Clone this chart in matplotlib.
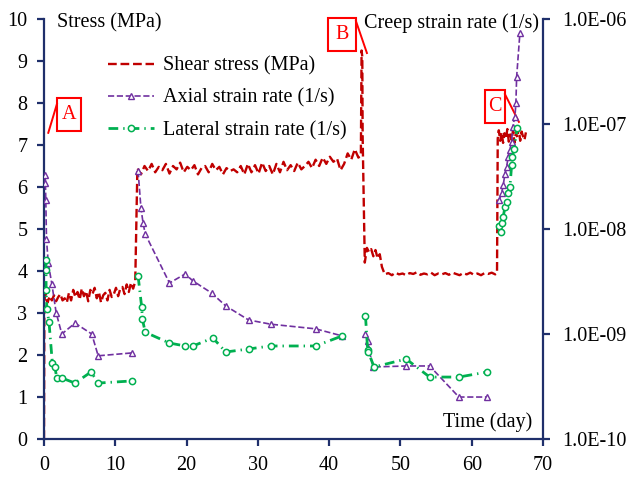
import matplotlib
matplotlib.use("Agg")
import matplotlib.pyplot as plt
from matplotlib.patches import Rectangle
from matplotlib.ticker import FixedLocator, FixedFormatter, NullLocator

NAN = float("nan")  # break between loading stages

# ---- shear stress (MPa) ----
stress_t = [
    0.0, 0.05,
    0.2, 0.5, 0.8, 1.1, 1.4, 1.7, 2.0, 2.3, 2.6, 2.9, 3.2, 3.5, 3.8, 4.1, 4.4,
    4.7, 5.0, 5.3, 5.6, 5.9, 6.2, 6.5, 6.8, 7.1, 7.4, 7.7, 8.0, 8.3, 8.6, 8.9,
    9.2, 9.5, 9.8, 10.1, 10.4, 10.7, 11.0, 11.3, 11.6, 11.9, 12.2, 12.5, 12.8,
    13.1, 13.6, 14.1, 14.6, 15.1, 15.6, 16.1, 16.6, 17.1, 17.6, 18.1, 18.6,
    19.1, 19.6, 20.1, 20.6, 21.1, 21.6, 22.1, 22.6, 23.1, 23.6, 24.1, 24.6,
    25.1, 25.6, 26.1, 26.6, 27.1, 27.6, 28.1, 28.6, 29.1, 29.6, 30.1, 30.6,
    31.1, 31.6, 32.1, 32.6, 33.1, 33.6, 34.1, 34.6, 35.1, 35.6, 36.1, 36.6,
    37.1, 37.6, 38.1, 38.6, 39.1, 39.6, 40.1, 40.6, 41.1, 41.6, 42.1, 42.6,
    43.1, 43.6, 44.1, 44.45,
    44.55, 44.65, 44.7,
    45.0, 45.3, 45.6, 45.9, 46.2, 46.5, 46.8, 47.1, 47.4,
    47.8, 48.3, 48.8, 49.3, 49.8, 50.3, 50.8, 51.3, 51.8, 52.3, 52.8, 53.3,
    53.8, 54.3, 54.8, 55.3, 55.8, 56.3, 56.8, 57.3, 57.8, 58.3, 58.8, 59.3,
    59.8, 60.3, 60.8, 61.3, 61.8, 62.3, 62.8, 63.3, 63.55,
    63.65, 63.8, 64.0, 64.2, 64.4, 64.6, 64.8, 65.0, 65.2, 65.4, 65.6, 65.8,
    66.0, 66.2, 66.4, 66.6, 66.8, 67.0, 67.2, 67.4, 67.6,
]
stress_v = [
    0.0, 3.30,
    3.45, 3.25, 3.40, 3.30, 3.42, 3.28, 3.38, 3.45, 3.30, 3.35, 3.25, 3.48,
    3.30, 3.55, 3.38, 3.50, 3.32, 3.58, 3.40, 3.52, 3.28, 3.55, 3.45, 3.60,
    3.35, 3.50, 3.25, 3.42, 3.48, 3.30, 3.55, 3.38, 3.45, 3.60, 3.40, 3.58,
    3.62, 3.45, 3.68, 3.50, 3.72, 3.58, 3.75,
    6.45, 6.30, 6.50, 6.38, 6.55, 6.35, 6.48, 6.40, 6.55, 6.32, 6.50, 6.42,
    6.58, 6.35, 6.48, 6.40, 6.52, 6.30, 6.45, 6.50, 6.35, 6.55, 6.40, 6.48,
    6.30, 6.45, 6.38, 6.42, 6.35, 6.50, 6.30, 6.55, 6.35, 6.52, 6.32, 6.58,
    6.38, 6.50, 6.30, 6.55, 6.35, 6.60, 6.40, 6.52, 6.38, 6.58, 6.42, 6.50,
    6.60, 6.45, 6.65, 6.50, 6.70, 6.55, 6.72, 6.60, 6.68, 6.40, 6.55, 6.80,
    6.65, 6.90, 6.70, 6.75,
    9.25, 9.10, 7.20,
    4.20, 4.55, 4.45, 4.52, 4.35, 4.50, 4.30, 4.40, 4.10,
    3.92, 3.95, 3.90, 3.96, 3.92, 3.94, 3.90, 3.95, 3.93, 3.97, 3.91, 3.94,
    3.92, 3.96, 3.90, 3.94, 3.92, 3.95, 3.91, 3.96, 3.93, 3.90, 3.95, 3.92,
    3.96, 3.91, 3.94, 3.90, 3.95, 3.93, 3.96, 3.92, 3.95,
    7.15, 7.35, 7.10, 7.30, 7.05, 7.28, 7.15, 7.38, 7.08, 7.25, 7.12, 7.35,
    7.05, 7.30, 7.18, 7.40, 7.10, 7.32, 7.20, 7.12, 7.30,
]

# ---- axial creep strain rate (1/s), NaN separates stages ----
axial_t = [
    0.15, 0.2, 0.25, 0.35, 0.6, 1.1, 1.7, 2.5, 4.35, 6.7, 7.6, 12.3, NAN,
    13.2, 13.6, 13.9, 14.2, 17.6, 19.8, 20.9, 23.5, 25.5, 28.7, 31.8, 38.1,
    41.8, NAN,
    45.1, 45.4, 45.5, 46.2, 50.8, 54.1, 58.2, 62.2, NAN,
    63.86, 64.19, 64.42, 64.66, 64.89, 65.12, 65.36, 65.6, 65.74, 66.06, 66.2,
    66.3, 66.76,
]
axial_v = [
    3.27e-8, 2.74e-8, 1.89e-8, 8.0e-9, 4.7e-9, 3.0e-9, 1.6e-9, 1.0e-9,
    1.27e-9, 1.0e-9, 6.2e-10, 6.6e-10, NAN,
    3.56e-8, 1.58e-8, 1.14e-8, 8.96e-9, 3.06e-9, 3.73e-9, 3.2e-9, 2.46e-9,
    1.85e-9, 1.36e-9, 1.24e-9, 1.12e-9, 9.6e-10, NAN,
    1.0e-9, 8.6e-10, 7.4e-10, 4.85e-10, 4.96e-10, 4.96e-10, 2.51e-10, 2.51e-10,
    NAN,
    1.89e-8, 2.2e-8, 2.62e-8, 3.34e-8, 3.9e-8, 4.85e-8, 5.65e-8, 6.74e-8,
    9.36e-8, 1.17e-7, 1.58e-7, 2.8e-7, 7.36e-7,
]

# ---- lateral creep strain rate (1/s), NaN separates stages ----
lateral_t = [
    0.25, 0.28, 0.3, 0.4, 0.7, 1.17, 1.54, 1.78, 2.48, 4.35, 6.6, 7.6, 12.3,
    NAN,
    13.2, 13.7, 13.8, 14.2, 17.6, 19.8, 20.9, 23.7, 25.5, 28.7, 31.8, 38.1,
    41.8, NAN,
    45.1, 45.4, 45.5, 46.3, 50.8, 54.1, 58.2, 62.2, NAN,
    63.86, 64.05, 64.19, 64.42, 64.66, 64.89, 65.12, 65.36, 65.6, 65.69, 65.92,
    66.4,
]
lateral_v = [
    5.07e-9, 4.07e-9, 2.62e-9, 1.73e-9, 1.3e-9, 5.3e-10, 4.85e-10, 3.81e-10,
    3.81e-10, 3.41e-10, 4.35e-10, 3.41e-10, 3.57e-10, NAN,
    3.57e-9, 1.81e-9, 1.39e-9, 1.04e-9, 8.2e-10, 7.69e-10, 7.69e-10, 9.16e-10,
    6.74e-10, 7.2e-10, 7.69e-10, 7.69e-10, 9.57e-10, NAN,
    1.48e-9, 7.04e-10, 6.74e-10, 4.85e-10, 5.78e-10, 3.89e-10, 3.89e-10,
    4.35e-10, NAN,
    1.07e-8, 9.36e-9, 1.14e-8, 1.3e-8, 1.62e-8, 1.81e-8, 2.2e-8, 2.51e-8,
    4.07e-8, 4.85e-8, 5.78e-8, 9.16e-8,
]

rate_ticks = [1e-10, 1e-9, 1e-8, 1e-7, 1e-6]
rate_labels = ["1.0E-10", "1.0E-09", "1.0E-08", "1.0E-07", "1.0E-06"]

# stage markers: label, text centre, box (x0, x1, y0, y1), leader line (x0, y0, x1, y1)
marks = [
    ("A", (3.51, 7.73), (1.82, 5.19, 7.33, 8.12), (0.6, 7.29, 1.82, 7.98)),
    ("B", (41.8, 9.63), (39.83, 43.76, 9.24, 10.02), (43.76, 9.95, 45.3, 9.19)),
    ("C", (63.25, 7.92), (61.85, 64.66, 7.52, 8.31), (64.66, 8.21, 66.62, 7.55)),
]

NAVY = "#1F2F6B"
RED = "#C00000"
PURPLE = "#7030A0"
GREEN = "#00B050"
FS = 14.5

plt.rcParams["font.family"] = ["Liberation Serif", "DejaVu Serif"]

fig = plt.figure(figsize=(6.3, 4.78), dpi=100)
ax = fig.add_axes([44 / 630, 39 / 478, 499 / 630, 420 / 478])
ax2 = ax.twinx()

l1, = ax.plot(stress_t, stress_v, color=RED, lw=1.7, ls="--",
              label="Shear stress (MPa)")
l2, = ax2.plot(axial_t, axial_v, color=PURPLE, lw=1.2, ls="--", marker="^",
               ms=5, mfc="white", mec=PURPLE, mew=1.0,
               label="Axial strain rate (1/s)")
l3, = ax2.plot(lateral_t, lateral_v, color=GREEN, lw=2.0,
               ls=(0, (3.5, 1.8, 0.5, 1.8)), marker="o", ms=4.5, mfc="white",
               mec=GREEN, mew=1.1, label="Lateral strain rate (1/s)")

ax.set_xlim(0, 70)
ax.set_ylim(0, 10)
ax.set_xticks(range(0, 71, 10))
ax.set_yticks(range(0, 11))
ax2.set_yscale("log")
ax2.set_ylim(1e-10, 1e-6)
ax2.yaxis.set_major_locator(FixedLocator(rate_ticks))
ax2.yaxis.set_major_formatter(FixedFormatter(rate_labels))
ax2.yaxis.set_minor_locator(NullLocator())

for a in (ax, ax2):
    a.spines["top"].set_visible(False)
    for s in ("left", "right", "bottom"):
        a.spines[s].set_color(NAVY)
        a.spines[s].set_linewidth(1.6)
    a.tick_params(direction="out", length=5, width=1.6, color=NAVY,
                  labelsize=FS, labelcolor="black", pad=7)
ax.spines["right"].set_visible(False)
ax2.spines["left"].set_visible(False)
ax2.spines["bottom"].set_visible(False)
ax2.tick_params(axis="y", pad=9)

ax.text(0.026, 0.99, "Stress (MPa)", transform=ax.transAxes, fontsize=FS,
        ha="left", va="center")
ax.text(0.992, 0.99, "Creep strain rate (1/s)", transform=ax.transAxes,
        fontsize=FS, ha="right", va="center")
ax.text(0.978, 0.04, "Time (day)", transform=ax.transAxes, fontsize=FS,
        ha="right", va="center")

ax2.legend(handles=[l1, l2, l3], loc="upper left",
           bbox_to_anchor=(0.128, 0.911), frameon=False, fontsize=FS,
           numpoints=1, handlelength=2.3, handletextpad=0.45,
           labelspacing=0.65, borderaxespad=0, borderpad=0)

for label, (tx, ty), (bx0, bx1, by0, by1), (lx0, ly0, lx1, ly1) in marks:
    ax.add_patch(Rectangle((bx0, by0), bx1 - bx0, by1 - by0, fill=True,
                           fc="white", ec="red", lw=1.5, clip_on=False,
                           zorder=5))
    ax.plot([lx0, lx1], [ly0, ly1], color="red", lw=1.4, clip_on=False,
            zorder=5)
    ax.text(tx, ty, label, color="red", fontsize=FS, ha="center",
            va="center", zorder=6)

fig.savefig("out.png", dpi=100)
